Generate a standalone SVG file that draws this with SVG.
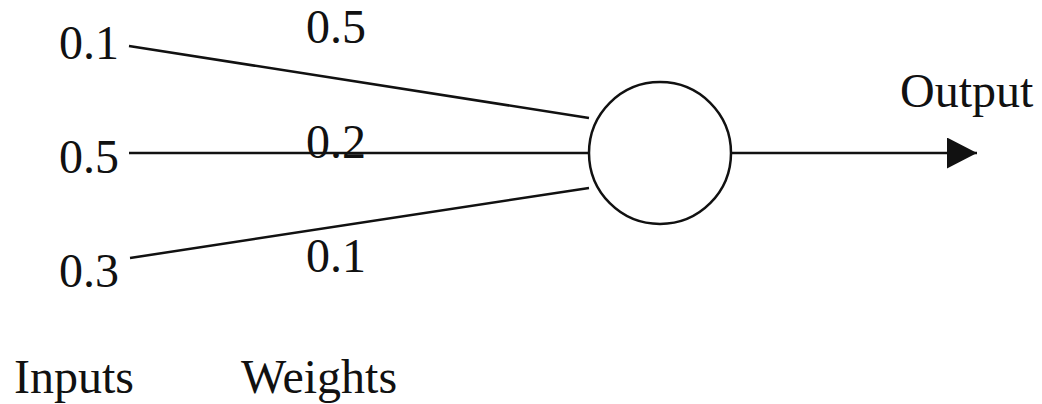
<svg xmlns="http://www.w3.org/2000/svg" width="1042" height="404" viewBox="0 0 1042 404">
<style>
text{font-family:"Liberation Serif","Times New Roman",serif;font-size:48px;fill:#111}
.c{stroke:#111;stroke-width:2.5;fill:none}
</style>
<defs>
<marker id="ah" markerUnits="userSpaceOnUse" markerWidth="31" markerHeight="31" refX="30" refY="15.5" orient="auto">
<path d="M0,0 L30,15.5 L0,31 Z" fill="#111"/>
</marker>
</defs>
<rect width="1042" height="404" fill="#fff"/>
<g id="connectors">
<line class="c" x1="129" y1="46" x2="589" y2="118"/>
<line class="c" x1="129" y1="153" x2="589" y2="153"/>
<line class="c" x1="130" y1="258" x2="589" y2="188"/>
<line class="c" x1="731" y1="153" x2="977" y2="153" marker-end="url(#ah)"/>
</g>
<g id="neuron"><circle class="c" cx="660" cy="153" r="71" fill="#fff"/></g>
<g id="in1"><text x="59" y="59">0.1</text></g>
<g id="in2"><text x="59" y="173">0.5</text></g>
<g id="in3"><text x="59" y="287">0.3</text></g>
<g id="w1"><text x="306" y="43">0.5</text></g>
<g id="w2"><text x="306" y="158">0.2</text></g>
<g id="w3"><text x="306" y="272">0.1</text></g>
<g id="output"><text x="900" y="107">Output</text></g>
<g id="inputs-label"><text x="14" y="393">Inputs</text></g>
<g id="weights-label"><text x="241" y="393">Weights</text></g>
</svg>
